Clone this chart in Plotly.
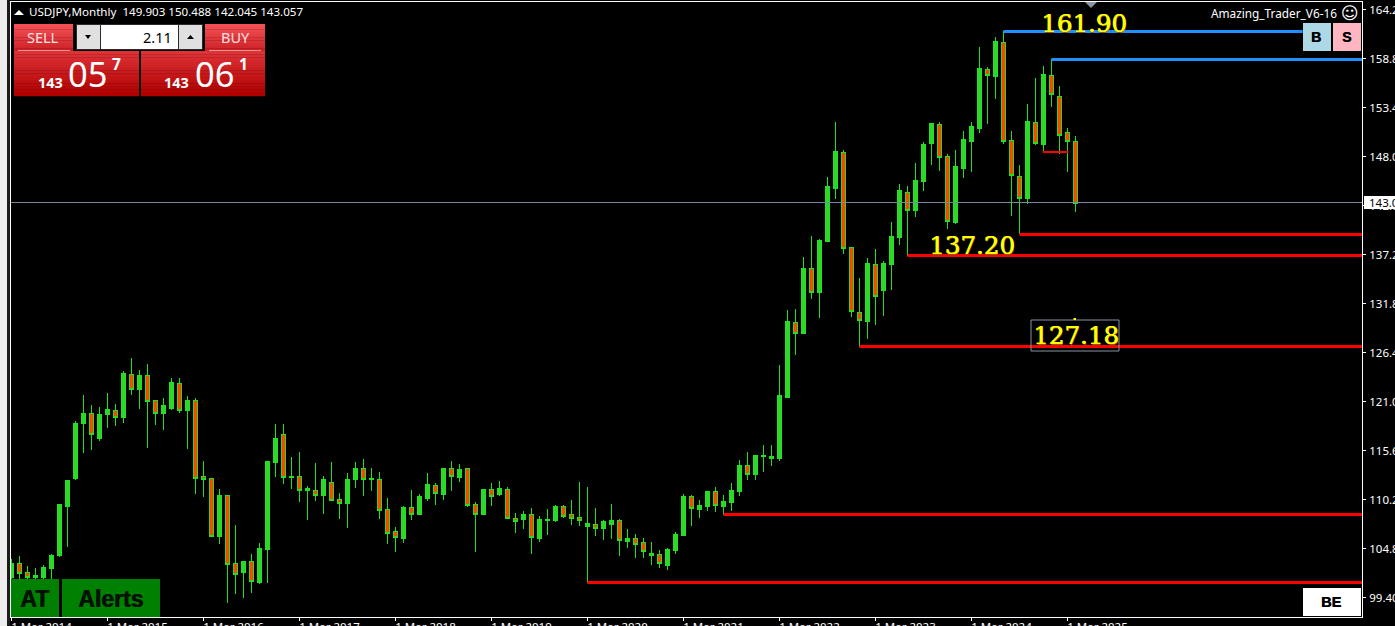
import plotly.graph_objects as go

# ---------- data ----------
OPENS = [
101.63,103.18,102.18,101.63,101.63,102.62,104.06,109.47,112.57,118.64,
119.75,116.99,119.64,120.08,119.31,124.06,122.40,123.95,121.18,119.75,
120.30,123.06,120.08,121.18,112.79,112.57,106.16,110.69,103.18,102.18,
103.40,101.07,104.72,114.33,117.43,112.68,112.79,111.24,111.24,110.69,
112.12,110.25,109.80,112.56,113.67,112.45,112.56,109.14,106.71,106.04,
109.36,108.69,110.46,111.79,110.90,113.67,112.78,113.67,109.69,108.69,
111.35,110.90,111.35,108.25,108.03,108.69,105.93,107.92,107.92,109.47,
108.69,108.36,107.26,107.48,107.04,107.48,107.92,105.60,105.93,105.49,
104.16,104.27,102.95,104.61,106.37,110.68,109.14,109.47,111.13,109.47,
109.91,111.13,114.00,113.01,115.00,114.88,114.88,121.62,129.80,128.59,
135.77,133.12,138.86,144.61,148.69,138.09,130.91,129.91,136.21,133.34,
136.21,139.30,144.27,142.18,145.38,149.58,151.68,148.25,140.85,146.82,
149.91,151.24,157.76,157.09,160.85,150.02,146.04,143.61,152.01,149.47,
157.20,154.88,150.90,149.903]
HIGHS = [
103.73,104.06,102.95,102.70,103.06,104.28,109.80,112.46,118.97,121.85,
120.74,120.52,122.07,120.85,124.50,125.94,124.61,125.27,121.30,121.52,
123.73,123.73,121.74,121.52,114.56,112.60,111.46,110.80,107.49,103.51,
104.28,105.49,114.56,118.64,118.64,115.00,115.55,111.79,114.33,112.90,
114.45,111.02,113.23,114.44,114.77,113.78,113.34,110.46,107.26,109.58,
111.35,110.90,113.22,112.12,113.67,114.55,114.22,113.78,110.02,111.46,
112.12,112.34,111.68,108.80,109.03,109.36,108.47,109.25,109.69,109.69,
110.24,112.23,111.68,109.36,108.03,109.80,108.14,107.04,106.48,106.04,
105.60,104.72,104.94,106.71,110.90,110.79,110.24,111.13,111.68,110.80,
112.12,114.66,115.55,115.22,116.32,116.32,125.16,131.24,131.35,137.09,
139.41,139.08,145.93,152.00,148.92,138.20,134.77,136.98,137.98,136.65,
140.96,145.16,144.94,147.48,149.80,151.79,152.01,148.47,148.92,151.02,
152.01,160.30,158.09,161.40,162.03,151.02,147.26,154.00,156.87,158.20,
158.94,155.99,151.35,150.488]
LOWS = [
101.40,101.40,101.40,101.40,101.40,101.40,103.95,105.05,112.46,115.44,
115.77,116.77,118.20,118.42,118.75,121.85,120.30,116.00,118.53,117.98,
120.19,119.86,115.88,110.91,110.58,106.10,105.38,98.87,99.86,99.42,
99.97,101.00,101.07,112.79,112.01,111.46,110.03,108.04,110.14,108.70,
110.10,108.15,107.15,111.57,110.68,111.24,108.14,105.38,104.50,105.49,
108.03,108.58,110.13,109.69,110.24,111.24,112.23,109.47,104.50,108.58,
109.58,110.68,108.10,106.59,107.04,104.27,105.60,106.37,107.81,108.25,
107.48,107.37,101.07,106.26,105.82,105.93,104.05,104.94,103.83,103.83,
103.06,102.73,102.51,104.27,106.26,107.37,108.26,109.03,108.92,108.59,
109.03,110.69,112.45,112.45,113.34,114.00,114.55,121.60,126.27,128.55,
132.45,130.35,138.75,143.50,137.42,130.46,127.15,128.03,129.58,130.57,
133.45,138.42,137.20,141.51,144.39,147.26,146.60,140.19,140.74,145.82,
146.49,150.79,151.79,154.55,149.58,141.62,139.63,142.95,149.47,148.58,
153.67,148.47,146.49,142.045]
CLOSES = [
103.18,102.07,101.63,101.85,102.73,104.06,109.69,112.35,118.64,119.75,
117.43,119.64,120.19,119.31,124.17,122.40,123.95,121.07,119.75,120.63,
123.17,120.08,121.18,112.57,112.46,106.16,110.69,103.06,101.96,103.40,
101.19,104.83,114.45,116.99,112.68,112.79,111.24,111.46,110.69,112.46,
110.14,109.80,112.46,113.67,112.45,112.67,109.03,106.59,106.15,109.36,
108.69,110.68,111.90,111.01,113.67,112.89,113.56,109.58,108.69,111.35,
110.68,111.46,108.14,107.81,108.69,106.15,108.03,108.03,109.47,108.47,
108.25,107.92,107.59,107.04,107.81,107.92,105.71,105.93,105.27,104.50,
104.38,103.17,104.72,106.48,110.68,109.25,109.58,111.13,109.58,110.02,
111.24,114.00,113.01,115.11,115.11,115.00,121.74,129.91,128.59,135.77,
133.12,138.97,144.83,148.80,137.98,131.02,130.02,136.32,132.78,136.32,
139.41,144.39,142.18,145.60,149.47,151.79,148.14,140.96,147.04,150.13,
151.46,157.87,157.20,160.96,149.91,146.15,143.61,152.12,149.58,157.31,
155.10,150.57,149.91,143.057]
BAR_INDEX = list(range(len(OPENS)))

X_TICK_BARS = [0,12,24,36,48,60,72,84,96,108,120,132]
X_TICK_LABELS = ["1 Mar 2014","1 Mar 2015","1 Mar 2016","1 Mar 2017","1 Mar 2018","1 Mar 2019",
                 "1 Mar 2020","1 Mar 2021","1 Mar 2022","1 Mar 2023","1 Mar 2024","1 Mar 2025"]
Y_TICK_VALUES = [99.42,104.83,110.25,115.66,121.08,126.49,131.90,137.32,142.73,148.15,153.56,158.98,164.39]
Y_TICK_LABELS = ["99.400","104.800","110.200","115.600","121.000","126.400","131.800","137.200",
                 "142.600","148.000","153.400","158.800","164.200"]

LAST_PRICE = 143.114
LAST_LABEL = "143.057"
BLUE_LEVELS = [162.010, 158.916]
BLUE_STARTS = [124, 130]
BLUE_ENDS = [161.4, 168.8125]
RED_LEVELS = [139.578, 137.257, 127.201, 108.637, 101.122]
RED_STARTS = [126, 112, 106, 89, 72]
RED_END = 168.8125
AXIS_START = -0.0625
SHORT_LEVEL = 148.694
SHORT_SPAN = [128.9, 132.1]

# ---------- window layout helpers ----------
W, H = 1395, 626
L, R, T, B = 11, 1362, 2, 617
def px(x): return (x - L) / (R - L)
def py(y): return 1 - (y - T) / (B - T)

shapes, notes = [], []
def rect(x0, y0, x1, y1, fill, line=None, lw=1):
    shapes.append(dict(type="rect", xref="paper", yref="paper", x0=px(x0), x1=px(x1), y0=py(y0), y1=py(y1),
                       fillcolor=fill, line=dict(color=line or fill, width=lw if line else 0)))
def grad(x0, y0, x1, y1, top, bot, n=10):
    h = (y1 - y0) / n
    for i in range(n):
        c = tuple(round(top[j] + (bot[j] - top[j]) * i / (n - 1)) for j in range(3))
        rect(x0, y0 + i * h, x1, y0 + (i + 1) * h + 0.3, "rgb(%d,%d,%d)" % c)
def tri(pts, fill):
    d = "M " + " L ".join("%f,%f" % (px(a), py(b)) for a, b in pts) + " Z"
    shapes.append(dict(type="path", xref="paper", yref="paper", path=d, fillcolor=fill, line=dict(width=0)))
def text(x, y, s, size, color="white", family="Noto Sans", anchor="center", weight=None, shadow=None):
    f = dict(size=size, color=color, family=family)
    if weight: f["weight"] = weight
    if shadow: f["shadow"] = shadow
    notes.append(dict(xref="paper", yref="paper", x=px(x), y=py(y), text=s, showarrow=False, font=f,
                      xanchor=anchor, yanchor="middle", borderpad=0, borderwidth=0))

# ---------- window furniture ----------
rect(0, 0, 7, H, "#EDEDED")
rect(7, 0, 10, H, "#1C1C1C")
tri([(14, 15), (19, 10), (24, 15)], "white")
text(29, 12, "USDJPY,Monthly&nbsp;&nbsp;149.903 150.488 142.045 143.057", 11.6, anchor="left")

# trade panel
grad(14, 24, 73, 51, (245, 80, 85), (205, 35, 40))
rect(18, 50, 70, 51, "#F09090")
text(43, 37, "SELL", 14.5, "#FFE0E0")
rect(76, 24, 203, 50, "#2B2B2B")
rect(77, 25, 100, 49, "#E0E0E0")
rect(101, 25, 178, 49, "white")
rect(179, 25, 202, 49, "#E0E0E0")
tri([(85, 35), (91, 35), (88, 39)], "black")
tri([(187, 39), (194, 39), (190.5, 35)], "black")
text(172, 37, "2.11", 14.5, "black", anchor="right")
grad(205, 24, 265, 51, (245, 80, 85), (205, 35, 40))
rect(209, 50, 261, 51, "#F09090")
text(235, 37, "BUY", 14.5, "#FFE0E0")
grad(14, 51, 139, 96, (222, 50, 55), (176, 0, 0), 14)
grad(141, 51, 265, 96, (222, 50, 55), (176, 0, 0), 14)
text(50.5, 82, "143", 14.5, weight=700)
text(87.5, 73, "05", 34.5)
text(116, 64, "7", 15.5, weight=700)
text(176.5, 82, "143", 14.5, weight=700)
text(214, 73, "06", 34.5)
text(243, 64, "1", 15.5, weight=700)

# indicator buttons
HEAVY = "0.6px 0 0 #000000"
text(1211, 13, "Amazing_Trader_V6-16", 11.8, anchor="left")
text(1350, 13, "\u263A", 17, family="DejaVu Sans")
rect(1303, 23, 1331, 51, "#ADD8E6")
rect(1333, 23, 1361, 51, "#FFB6C1")
text(1316, 37, "B", 14, "black", family="Liberation Sans", weight=700, shadow=HEAVY)
text(1346, 37, "S", 14, "black", family="Liberation Sans", weight=700, shadow=HEAVY)
rect(1303, 588, 1361, 616, "white")
text(1331, 602, "BE", 14.5, "black", family="Liberation Sans", weight=700, shadow=HEAVY)
rect(11, 579, 59, 617, "#008000")
rect(62, 579, 160, 617, "#008000")
DARK = "0.8px 0 0 #021202"
text(34, 599, "AT", 23, "#021202", family="Liberation Sans", weight=700, shadow=DARK)
text(110.5, 599, "Alerts", 23, "#021202", family="Liberation Sans", weight=700, shadow=DARK)
tri([(1085, 2), (1097, 2), (1091, 8)], "#8A94A0")

# yellow level labels
YEL = "0.6px 0 0 #FFFF00, 1px 1px 0 #8a5a00"
text(1084, 23, "161.90", 24.5, "#FFFF00", family="DejaVu Serif", shadow=YEL)
text(972, 245, "137.20", 24.5, "#FFFF00", family="DejaVu Serif", shadow=YEL)
text(1076, 335, "127.18", 24.5, "#FFFF00", family="DejaVu Serif", shadow=YEL)
rect(1031, 320, 1119, 351, "rgba(0,0,0,0)", line="#8A94A0")
rect(1073.5, 318, 1076, 320, "#FFFF00")

# price tag
rect(1364, 196, 1395, 209, "white")
text(1369, 202, LAST_LABEL, 11.5, "black", anchor="left")

# ---------- chart ----------
fig = go.Figure()
GREEN_LINE = "#20E020"
fig.add_trace(go.Candlestick(
    x=BAR_INDEX, open=OPENS, high=HIGHS, low=LOWS, close=CLOSES, hoverinfo="skip",
    whiskerwidth=0,
    increasing=dict(line=dict(color=GREEN_LINE, width=1), fillcolor="#2DD82D"),
    decreasing=dict(line=dict(color=GREEN_LINE, width=1), fillcolor="#FF4500"),
))
fig.add_trace(go.Scatter(x=[AXIS_START, RED_END], y=[LAST_PRICE, LAST_PRICE], mode="lines",
                         line=dict(color="#778899", width=1), hoverinfo="skip"))
for lvl, s in zip(RED_LEVELS, RED_STARTS):
    fig.add_trace(go.Scatter(x=[s, RED_END], y=[lvl, lvl], mode="lines",
                             line=dict(color="#FF0000", width=3), hoverinfo="skip"))
for lvl, s, e in zip(BLUE_LEVELS, BLUE_STARTS, BLUE_ENDS):
    fig.add_trace(go.Scatter(x=[s, e], y=[lvl, lvl], mode="lines",
                             line=dict(color="#1E90FF", width=3), hoverinfo="skip"))
fig.add_trace(go.Scatter(x=SHORT_SPAN, y=[SHORT_LEVEL, SHORT_LEVEL], mode="lines",
                         line=dict(color="#FF0000", width=2), hoverinfo="skip"))

fig.update_layout(
    width=W, height=H, showlegend=False, paper_bgcolor="black", plot_bgcolor="black",
    margin=dict(l=L, r=W - R, t=T, b=H - B, autoexpand=False), boxgap=0.5, boxgroupgap=0,
    font=dict(family="Noto Sans", color="white", size=11.5),
    shapes=shapes, annotations=notes,
    xaxis=dict(range=[AXIS_START, 168.8125], rangeslider=dict(visible=False), showgrid=False, zeroline=False, automargin=False,
               tickmode="array", tickvals=X_TICK_BARS, ticktext=X_TICK_LABELS, ticks="outside", ticklen=3,
               tickcolor="white", showline=True, linecolor="white", linewidth=1, mirror=True,
               tickfont=dict(color="white", size=11.5), ticklabelshift=30, ticklabelstandoff=-4),
    yaxis=dict(range=[97.31, 165.27], side="right", showgrid=False, zeroline=False, automargin=False,
               tickmode="array", tickvals=Y_TICK_VALUES, ticktext=Y_TICK_LABELS, ticks="outside", ticklen=3,
               tickcolor="white", showline=True, linecolor="white", linewidth=1, mirror=True,
               tickfont=dict(color="white", size=11.5), ticklabelstandoff=1),
)
fig.write_html("out.html", config=dict(displayModeBar=False),
               post_script=("document.body.style.margin='0';document.body.style.overflow='hidden';"
                            "document.body.style.background='black';"
                            "document.querySelectorAll('.boxlayer path').forEach(function(p){"
                            "p.style.shapeRendering='crispEdges';});"))
